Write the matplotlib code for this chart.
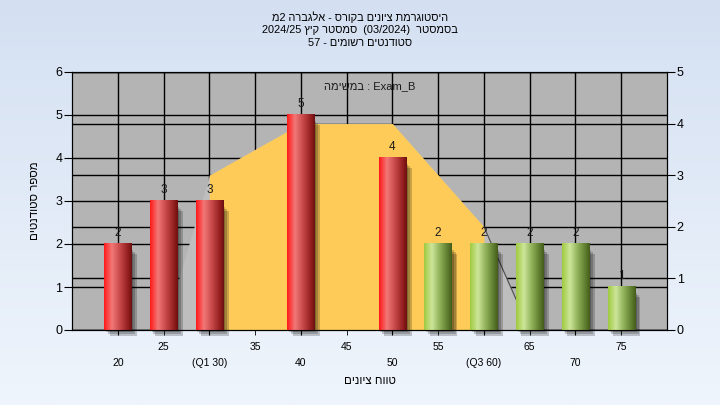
import re
import numpy as np
import matplotlib
matplotlib.use('Agg')
import matplotlib.pyplot as plt
from matplotlib.colors import LinearSegmentedColormap
from matplotlib.patches import Rectangle
from matplotlib.transforms import blended_transform_factory

plt.rcParams['font.family'] = ['Liberation Sans', 'DejaVu Sans']

# ---- data ----
categories = [20, 25, 30, 35, 40, 45, 50, 55, 60, 65, 70, 75]
counts = [2, 3, 3, 0, 5, 0, 4, 2, 2, 2, 2, 1]
tick_labels = ['20', '25', '(Q1 30)', '35', '40', '45', '50', '55', '(Q3 60)', '65', '70', '75']
pass_mark = 55
# distribution curve on the right axis (grey area), yellow between Q1 and Q3
curve = [np.nan, 0, 3, 3.5, 4, 4, 4, 3, 2, 0, np.nan, np.nan]
q1_idx, q3_idx = 2, 8
left_ticks = [0, 1, 2, 3, 4, 5, 6]
right_ticks = [0, 1, 2, 3, 4, 5]

title_lines = ['היסטוגרמת ציונים בקורס - אלגברה 2מ',
               'בסמסטר  (03/2024)  סמסטר קיץ 2024/25',
               'סטודנטים רשומים - 57']
task_word = 'במשימה'
task_name = 'Exam_B'
xlabel = 'טווח ציונים'
ylabel = 'מספר סטודנטים'


def rtl(s):
    # matplotlib lays glyphs left to right: flip hebrew, keep number/latin runs
    parts = re.findall(r'[0-9A-Za-z_/().]+|.', s)
    return ''.join(reversed(parts))


red_cmap = LinearSegmentedColormap.from_list('red_cyl', [
    (0.0, '#ff1a1a'), (0.28, '#f27878'), (0.55, '#cc4c4c'), (0.9, '#8c1a1a'), (1.0, '#6a1010')])
green_cmap = LinearSegmentedColormap.from_list('green_cyl', [
    (0.0, '#a0ca40'), (0.28, '#cde69a'), (0.55, '#93b45c'), (0.85, '#5e7c2e'), (1.0, '#455d1c')])
bg_cmap = LinearSegmentedColormap.from_list('bg', ['#d4e0f2', '#eff5fc'])

fig = plt.figure(figsize=(7.2, 4.05), dpi=100)

bg = fig.add_axes([0, 0, 1, 1], zorder=-10)
bg.imshow(np.linspace(0, 1, 256).reshape(-1, 1), aspect='auto', cmap=bg_cmap,
          extent=[0, 1, 0, 1], origin='upper')
bg.axis('off')

ax = fig.add_axes([72/720, 1 - 330/405, 595/720, 258/405])
ax.set_facecolor('#b4b4b4')
ax2 = ax.twinx()

x = np.arange(len(categories))
curve = np.array(curve, dtype=float)

# grey distribution area and the yellow Q1-Q3 band (right axis units)
ax.fill_between(x, 0, curve, transform=ax2.transData, color='#bebebe', lw=0, zorder=1)
ax.fill_between(x[q1_idx:q3_idx + 1], 0, curve[q1_idx:q3_idx + 1], transform=ax2.transData,
                color='#fecb58', lw=0, zorder=1.1)
ax.plot(x[q3_idx:q3_idx + 2], curve[q3_idx:q3_idx + 2], transform=ax2.transData,
        color='#4a4a4a', lw=0.8, zorder=1.2)

# right axis grid lines (drawn in the main axes so the areas cover them)
rtrans = blended_transform_factory(ax.transAxes, ax2.transData)
for v in right_ticks:
    ax.plot([0, 1], [v, v], transform=rtrans, color='k', lw=1, zorder=0.6)

# cylinder bars with a soft shadow
bar_w = 0.6
shade = np.linspace(0, 1, 64).reshape(1, -1)
for i, (c, n) in enumerate(zip(categories, counts)):
    if n == 0:
        continue
    x0 = i - bar_w / 2
    for k in range(1, 4):
        ax.add_patch(Rectangle((x0 + 0.04 * k, -0.05 * k), bar_w, n - 0.08, color='k',
                               alpha=0.2, lw=0, zorder=2, clip_on=False))
    ax.imshow(shade, extent=[x0, x0 + bar_w, 0, n], aspect='auto',
              cmap=red_cmap if c < pass_mark else green_cmap, zorder=3)
    ax.text(i, n + 0.12, str(n), ha='center', va='bottom', fontsize=8.5,
            color='#1a1a1a', zorder=4)

ax.set_xlim(-1, len(categories))
ax.set_ylim(0, 6)
ax2.set_ylim(0, 5)

ax.set_xticks(x[0::2])
ax.set_xticklabels(tick_labels[0::2])
ax.set_xticks(x[1::2], minor=True)
ax.set_xticklabels(tick_labels[1::2], minor=True)
ax.tick_params(axis='x', which='major', length=3.6, pad=16.5, labelsize=7.5)
ax.tick_params(axis='x', which='minor', length=3.6, pad=5, labelsize=7.5)
ax.set_yticks(left_ticks)
ax.tick_params(axis='y', length=6, pad=1, labelsize=9)
ax2.set_yticks(right_ticks)
ax2.tick_params(axis='y', length=6, pad=1, labelsize=9)

ax.grid(which='both', axis='x', color='k', lw=1)
ax.grid(axis='y', color='k', lw=1)
ax.set_axisbelow(True)
for sp in list(ax.spines.values()) + list(ax2.spines.values()):
    sp.set_color('k')

ax.text(0.5, 0.945, rtl(task_word) + ' : ' + task_name, transform=ax.transAxes,
        ha='center', va='center', fontsize=8, color='#1a1a1a', zorder=5)

for line, yy in zip(title_lines, [17, 30, 43]):
    fig.text(0.5, 1 - yy / 405, rtl(line), ha='center', va='center', fontsize=7.9)
fig.text(370 / 720, 1 - 381 / 405, rtl(xlabel), ha='center', va='center', fontsize=8.3)
fig.text(35 / 720, 1 - 201 / 405, rtl(ylabel), ha='center', va='center', rotation=90,
         fontsize=8.3)

fig.savefig('out.png', dpi=100)
